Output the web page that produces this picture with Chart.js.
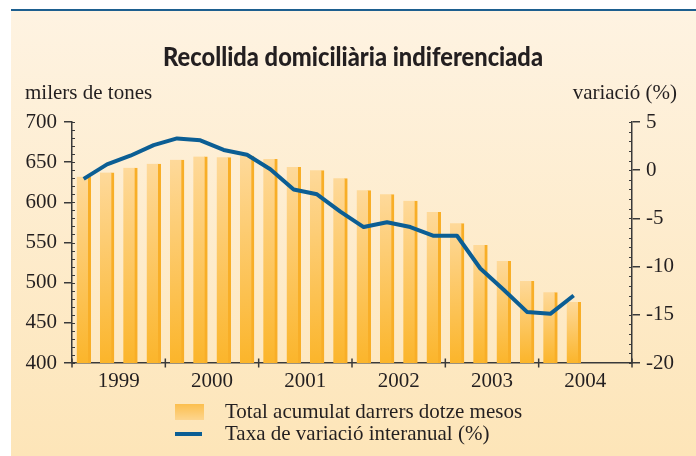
<!DOCTYPE html>
<html>
<head>
<meta charset="utf-8">
<script src="https://cdn.jsdelivr.net/npm/chart.js@4.4.0/dist/chart.umd.min.js"></script>
<style>
  body { margin: 0; background: #fff; }
  #chart { display: block; }
</style>
</head>
<body>
<canvas id="chart" width="696" height="456"></canvas>
<script>
// quarterly data, 1999 T1 .. 2004 T2 (axis runs to end of 2004)
const quarters = [
  "1999 T1", "1999 T2", "1999 T3", "1999 T4",
  "2000 T1", "2000 T2", "2000 T3", "2000 T4",
  "2001 T1", "2001 T2", "2001 T3", "2001 T4",
  "2002 T1", "2002 T2", "2002 T3", "2002 T4",
  "2003 T1", "2003 T2", "2003 T3", "2003 T4",
  "2004 T1", "2004 T2", "2004 T3", "2004 T4",
];
const years = ["1999", "2000", "2001", "2002", "2003", "2004"];
const totalTones = [632, 637, 643, 648, 653, 657, 656, 658, 654, 644, 640, 630,
  615, 610, 602, 588, 574, 547, 527, 502, 488, 476, null, null];
const variacio = [-0.9, 0.6, 1.5, 2.6, 3.3, 3.1, 2.1, 1.6, 0.1, -2.0, -2.5, -4.3,
  -5.9, -5.4, -5.9, -6.8, -6.8, -10.2, -12.4, -14.7, -14.9, -13.0, null, null];
const leftTicks = [400, 450, 500, 550, 600, 650, 700];
const rightTicks = [-20, -15, -10, -5, 0, 5];

const serif = "'Liberation Serif', 'DejaVu Serif', serif";
const ink = "#231f20";
const lineBlue = "#0b5e94";
const fontSize = 21;

Chart.defaults.font.family = serif;
Chart.defaults.font.size = fontSize;
Chart.defaults.color = ink;

const barFill = (ctx) => {
  const chart = ctx.chart;
  const area = chart.chartArea;
  if (!area || ctx.raw == null) return "#fcc55a";
  const top = chart.scales.y.getPixelForValue(ctx.raw);
  const g = chart.ctx.createLinearGradient(0, top, 0, area.bottom);
  g.addColorStop(0, "#fed99a");
  g.addColorStop(1, "#fbb52b");
  return g;
};

const decor = {
  id: "decor",
  beforeDraw(chart) {
    const c = chart.ctx;
    const W = chart.width, H = chart.height;
    c.save();
    c.fillStyle = "#fff";
    c.fillRect(0, 0, W, H);
    const bg = c.createLinearGradient(0, 9, 0, H);
    bg.addColorStop(0, "#fef3e2");
    bg.addColorStop(1, "#fde5b8");
    c.fillStyle = bg;
    c.fillRect(11, 9, W - 11, H - 9);
    c.fillStyle = "#1d5f8f";
    c.fillRect(11, 9, W - 11, 2);
    c.restore();
  },
  afterDraw(chart) {
    const c = chart.ctx;
    const { x, y, y2 } = chart.scales;
    const area = chart.chartArea;
    c.save();

    // title, condensed to the width of the original
    c.fillStyle = ink;
    c.font = "900 26px Lato";
    const title = "Recollida domiciliària indiferenciada";
    const w = c.measureText(title).width;
    c.translate(353, 66);
    c.scale(Math.min(1, 380 / w), 1);
    c.textAlign = "center";
    c.textBaseline = "alphabetic";
    c.fillText(title, 0, 0);
    c.setTransform(1, 0, 0, 1, 0, 0);

    // axis titles
    c.font = fontSize + "px " + serif;
    c.textAlign = "left";
    c.fillText("milers de tones", 25, 99);
    c.textAlign = "right";
    c.fillText("variació (%)", 677, 99);

    // minor ticks
    c.strokeStyle = "#3a3a3a";
    c.lineWidth = 1;
    for (let v = 400; v <= 700; v += 10) {
      const py = Math.round(y.getPixelForValue(v)) + 0.5;
      c.beginPath(); c.moveTo(area.left, py); c.lineTo(area.left + 3, py); c.stroke();
    }
    for (let v = -20; v <= 5; v += 1) {
      const py = Math.round(y2.getPixelForValue(v)) + 0.5;
      c.beginPath(); c.moveTo(area.right - 3, py); c.lineTo(area.right, py); c.stroke();
    }

    // year ticks crossing the x axis
    c.lineWidth = 1.5;
    const step = x.getPixelForValue(1) - x.getPixelForValue(0);
    for (let i = 0; i <= quarters.length; i += 4) {
      const px = i < quarters.length ? x.getPixelForValue(i) - step / 2 : area.right;
      c.beginPath(); c.moveTo(px, area.bottom - 4.5); c.lineTo(px, area.bottom + 4.5); c.stroke();
    }

    // legend
    const bars = chart.data.datasets.find((d) => d.type === "bar");
    const line = chart.data.datasets.find((d) => d.type === "line");
    const lg = c.createLinearGradient(0, 404, 0, 420);
    lg.addColorStop(0, "#fcbf4e");
    lg.addColorStop(1, "#fdd58e");
    c.fillStyle = lg;
    c.fillRect(175, 404, 29, 16);
    c.strokeStyle = lineBlue;
    c.lineWidth = 4;
    c.beginPath(); c.moveTo(175, 434); c.lineTo(202, 434); c.stroke();
    c.fillStyle = ink;
    c.font = fontSize + "px " + serif;
    c.textAlign = "left";
    c.textBaseline = "alphabetic";
    c.fillText(bars.label, 225, 418);
    c.fillText(line.label, 225, 440);
    c.restore();
  },
};

new Chart(document.getElementById("chart"), {
  data: {
    labels: quarters,
    datasets: [
      {
        type: "line",
        label: "Taxa de variació interanual (%)",
        data: variacio,
        yAxisID: "y2",
        borderColor: lineBlue,
        borderWidth: 4,
        borderJoinStyle: "round",
        borderCapStyle: "butt",
        pointRadius: 0,
        tension: 0,
        order: 0,
      },
      {
        type: "bar",
        label: "Total acumulat darrers dotze mesos",
        data: totalTones,
        yAxisID: "y",
        backgroundColor: barFill,
        borderColor: "#f8ae27",
        borderWidth: { top: 0, right: 3, bottom: 0, left: 0 },
        borderSkipped: false,
        barThickness: 14,
        order: 1,
      },
    ],
  },
  options: {
    responsive: false,
    animation: false,
    layout: { padding: { top: 122, left: 0, right: 0, bottom: 0 } },
    plugins: { legend: { display: false }, tooltip: { enabled: false }, title: { display: false } },
    scales: {
      x: {
        offset: true,
        grid: { display: false, drawTicks: false },
        border: { color: "#3a3a3a", width: 1.5 },
        afterFit: (s) => { s.height = 93; },
        ticks: {
          autoSkip: false,
          maxRotation: 0,
          padding: 6,
          labelOffset: 560 / 24 / 2,
          color: ink,
          font: { family: serif, size: fontSize },
          callback: (v, i) => (i % 4 === 1 ? years[(i - 1) / 4] : ""),
        },
      },
      y: {
        position: "left",
        min: leftTicks[0],
        max: leftTicks[leftTicks.length - 1],
        afterBuildTicks: (s) => { s.ticks = leftTicks.map((v) => ({ value: v })); },
        afterFit: (s) => { s.width = 72; },
        grid: { drawOnChartArea: false, tickLength: 8, color: "#3a3a3a", lineWidth: 1.5 },
        border: { color: "#3a3a3a", width: 1.5 },
        ticks: { padding: 7, color: ink, font: { family: serif, size: fontSize } },
      },
      y2: {
        position: "right",
        min: rightTicks[0],
        max: rightTicks[rightTicks.length - 1],
        afterBuildTicks: (s) => { s.ticks = rightTicks.map((v) => ({ value: v })); },
        afterFit: (s) => { s.width = 64; },
        grid: { drawOnChartArea: false, tickLength: 8, color: "#3a3a3a", lineWidth: 1.5 },
        border: { color: "#3a3a3a", width: 1.5 },
        ticks: { padding: 6, color: ink, font: { family: serif, size: fontSize } },
      },
    },
  },
  plugins: [decor],
});
</script>
</body>
</html>
